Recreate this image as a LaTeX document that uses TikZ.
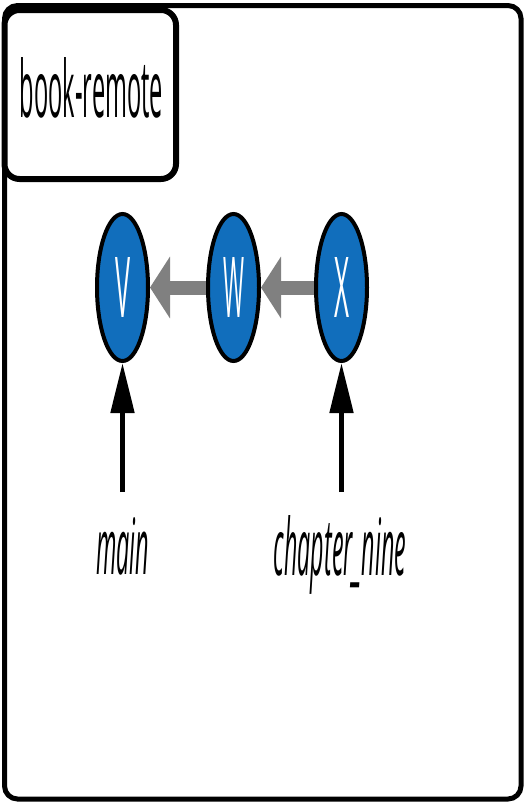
\documentclass[tikz,border=0pt]{standalone}
\usepackage{fontspec}
\setmainfont{Open Sans}
\usetikzlibrary{shapes.geometric,arrows.meta}
\definecolor{commitblue}{RGB}{17,110,188}
\definecolor{arrowgray}{RGB}{128,128,128}
\tikzset{
  commit/.style={ellipse,draw=black,fill=commitblue,line width=4pt,inner sep=0pt,
    minimum width=51pt,minimum height=147pt,text=white},
  parentarrow/.style={draw=arrowgray,line width=14pt,-{Triangle[length=20pt,width=61pt]}},
  refarrow/.style={draw=black,line width=5pt,-{Triangle[length=50pt,width=23pt]}},
  lbl/.style={inner sep=0pt,anchor=base}
}
\begin{document}
\begin{tikzpicture}[x=1pt,y=-1pt]
\useasboundingbox (0,0) rectangle (524,803);
% outer remote box
\draw[line width=5pt,rounded corners=13pt] (4.5,5.5) rectangle (521,799);
% tab
\node[draw=black,fill=white,line width=6pt,rounded corners=15pt,inner sep=0pt,
  minimum width=171.5pt,minimum height=169pt] (tab) at (90.25,94.5) {};
\node[lbl] (tabtext) at (91.5,117) {\resizebox{143pt}{60pt}{book-remote}};
% commits
\node[commit] (V) at (122.5,287.5) {\resizebox{15pt}{60pt}{V}};
\node[commit] (W) at (233.5,287.5) {\resizebox{21pt}{60pt}{W}};
\node[commit] (X) at (341.5,287.5) {\resizebox{15pt}{60pt}{X}};
\draw[parentarrow] (W.west) -- (V.east);
\draw[parentarrow] (X.west) -- (W.east);
% refs
\coordinate (mainend) at (122.5,492);
\coordinate (chapend) at (341.5,492);
\draw[refarrow] (mainend) -- (V.south);
\draw[refarrow] (chapend) -- (X.south);
\node[lbl] (main) at (122.5,574) {\resizebox{53pt}{57pt}{\itshape main}};
\node[lbl] (chap) at (340,575) {\resizebox{132pt}{60pt}{\itshape chapter\_nine}};
\end{tikzpicture}
\end{document}
